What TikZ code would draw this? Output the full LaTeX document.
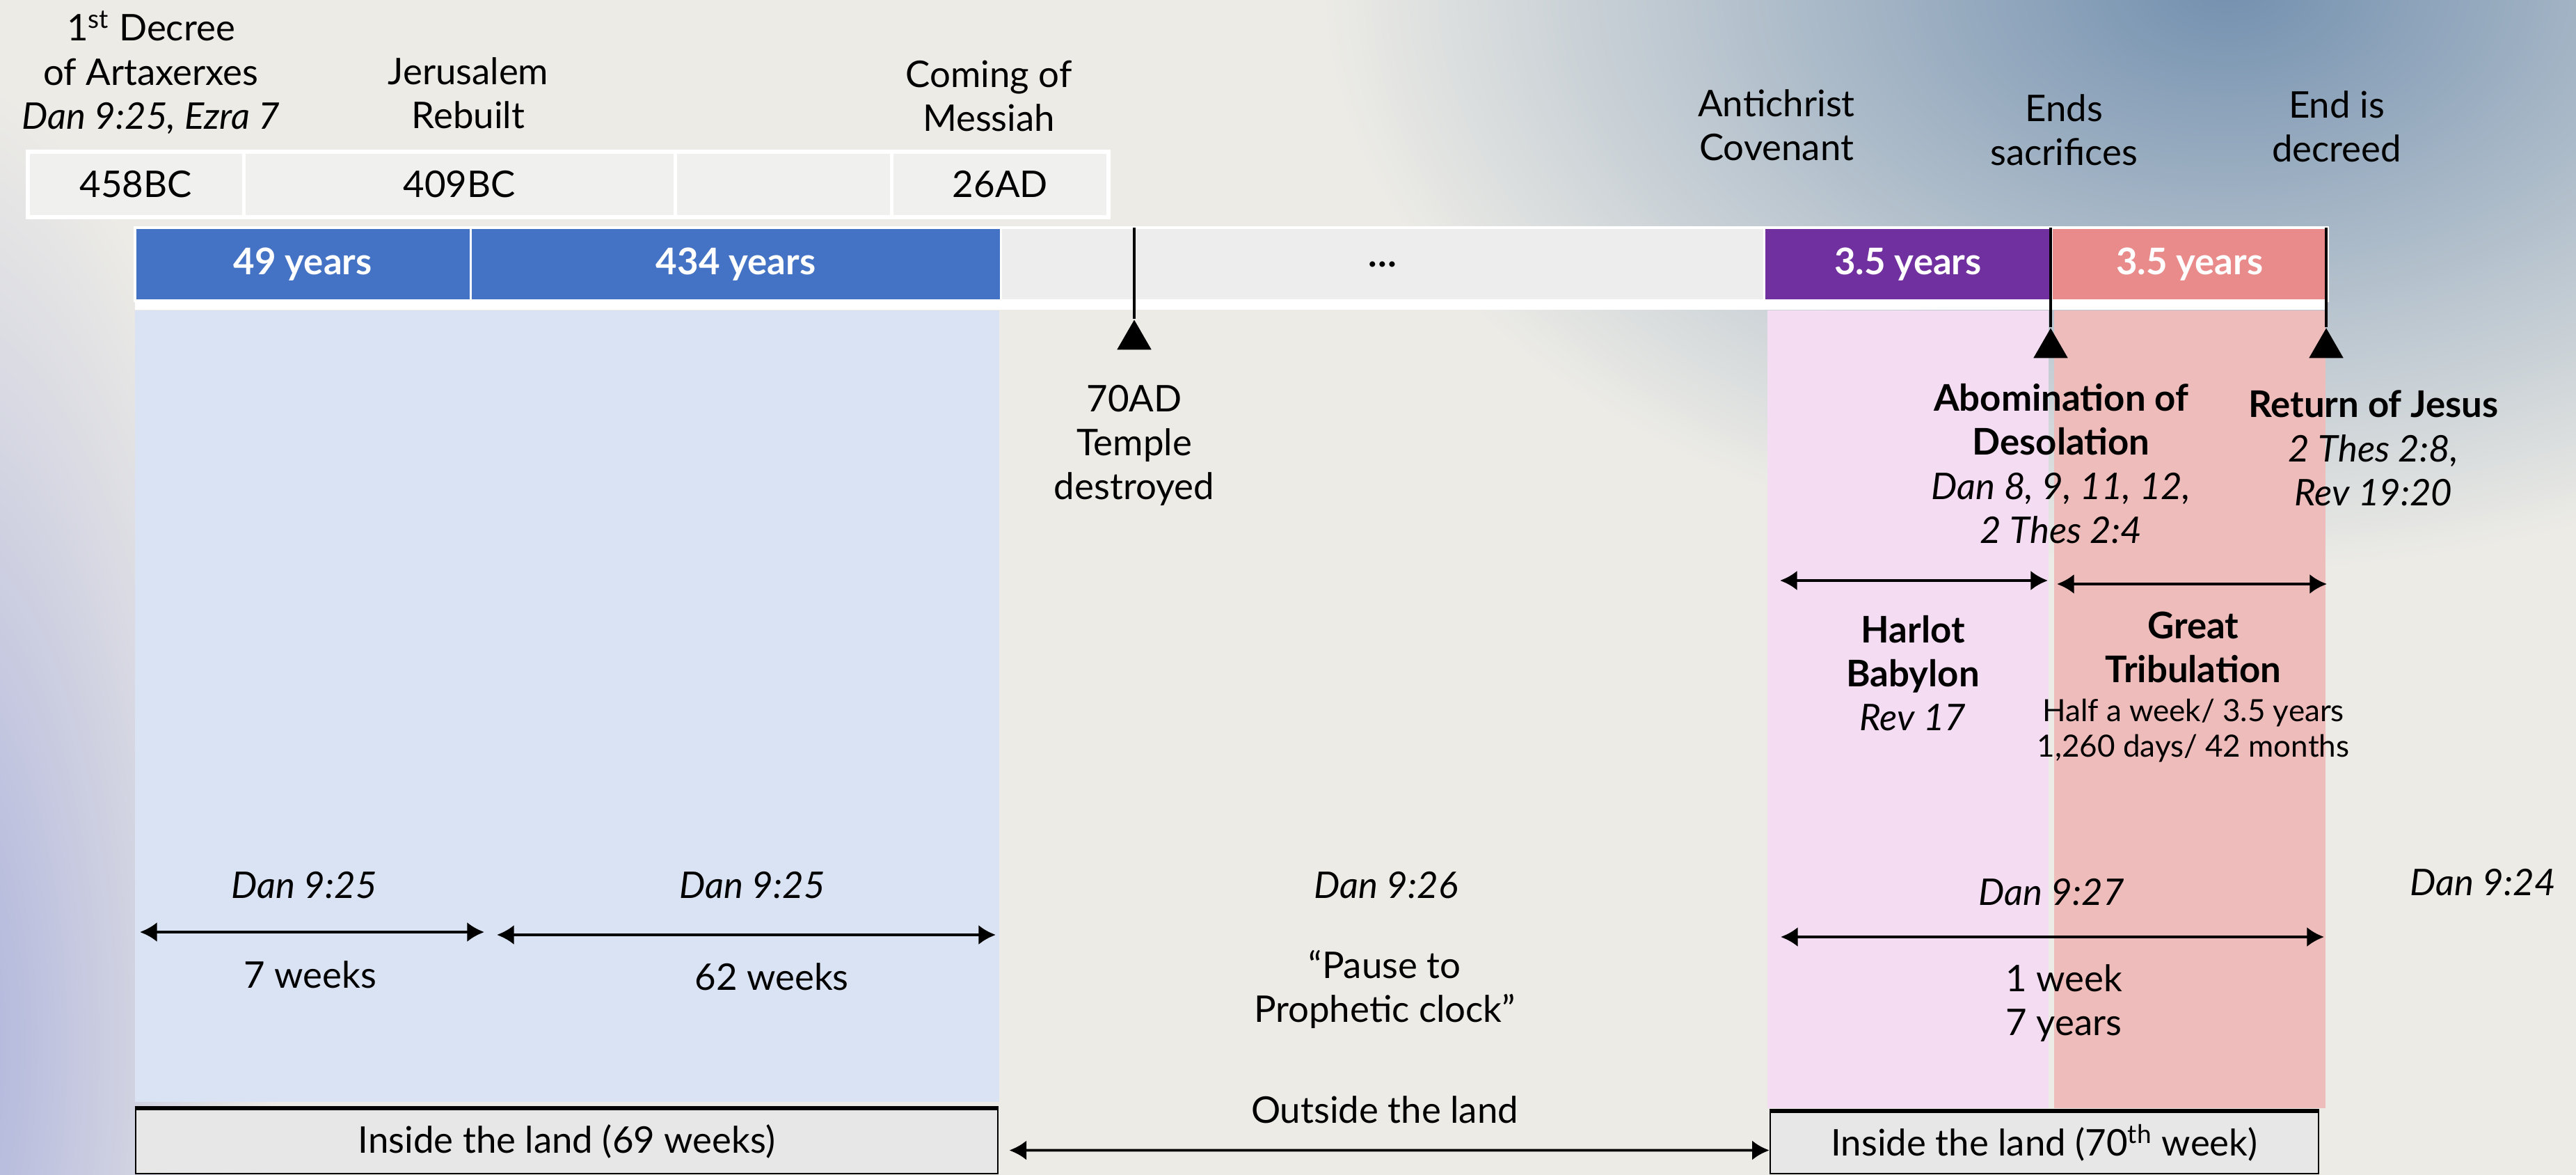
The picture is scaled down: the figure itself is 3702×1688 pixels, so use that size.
\documentclass[tikz,border=0pt]{standalone}
\usepackage{fontspec}
\setmainfont{Lato}
\usetikzlibrary{arrows.meta, positioning, shapes.geometric}

\definecolor{bgc}{HTML}{ECEBE6}
\definecolor{cloud}{HTML}{7390AF}
\definecolor{edgetint}{HTML}{A9AFDB}
\definecolor{cellgray}{HTML}{F0F0EF}
\definecolor{boxgray}{HTML}{E7E7E7}
\definecolor{barblue}{HTML}{4472C4}
\definecolor{barpurple}{HTML}{7030A0}
\definecolor{barsalmon}{HTML}{E98B8B}
\definecolor{bargray}{HTML}{EDEDED}
\definecolor{colblue}{HTML}{DAE3F3}
\definecolor{colpink}{HTML}{F4DCF3}
\definecolor{colsalmon}{HTML}{EEBCBA}

\begin{document}
\begin{tikzpicture}[
    x=0.01cm, y=-0.01cm,
    >={Latex[length=7pt, width=8pt]},
    font=\fontsize{15}{18}\selectfont,
    txt/.style = {align=center, inner sep=1pt},
    ref/.style = {txt, font=\fontsize{15}{18}\selectfont\itshape},
    head/.style = {txt, font=\fontsize{15}{18}\selectfont\bfseries},
    small/.style = {txt, font=\fontsize{12.5}{14.5}\selectfont},
    cell/.style = {draw=white, line width=1.5pt, fill=cellgray, minimum height=0.94cm, inner sep=0pt, outer sep=0pt},
    bar/.style = {draw=white, line width=1pt, minimum height=1.05cm, inner sep=0pt, outer sep=0pt, text=white, font=\fontsize{15}{18}\selectfont\bfseries},
    landbox/.style = {draw=black, line width=0.6pt, fill=boxgray, inner sep=0pt},
    span/.style = {<->, line width=1.1pt},
    pointer/.style = {regular polygon, regular polygon sides=3, fill=black, inner sep=0pt, minimum size=0.57cm},
    stem/.style = {line width=1.1pt}
]

% =========================================================
% BACKGROUND
% =========================================================
\useasboundingbox (0,0) rectangle (3702,1688);
\begin{scope}
  \clip (0,0) rectangle (3702,1688);
  \fill[bgc] (0,0) rectangle (3702,1688);
  \shade[inner color=cloud, outer color=bgc] (3200,-20) ellipse (1300 and 840);
  \shade[inner color=edgetint, outer color=bgc] (-100,1500) ellipse (500 and 1400);
\end{scope}

% shaded columns under the bar
\fill[colblue] (194,446) rectangle (1436,1583);
\fill[colpink] (2540,446) rectangle (2944,1592);
\fill[colsalmon] (2952,446) rectangle (3342,1592);

% =========================================================
% DATES AND HEADINGS
% =========================================================
\node[cell, minimum width=3.10cm, anchor=north west] (c458) at (40,218) {458BC};
\node[cell, minimum width=6.20cm, right=0pt of c458] (c409) {409BC};
\node[cell, minimum width=3.11cm, right=0pt of c409] (cblank) {};
\node[cell, minimum width=3.11cm, right=0pt of cblank] (c26) {26AD};

\node[txt] (decree) at (217,104) {1\textsuperscript{st} Decree\\of Artaxerxes\\\textit{Dan 9:25, Ezra 7}};
\node[txt] (rebuilt) at (673,134) {Jerusalem\\Rebuilt};
\node[txt] (messiah) at (1421,138) {Coming of\\Messiah};
\node[txt] (covenant) at (2553,180) {Antichrist\\Covenant};
\node[txt] (sacrifice) at (2966,187) {Ends\\sacrifices};
\node[txt] (decreed) at (3358,182) {End is\\decreed};

% =========================================================
% TIMELINE BAR
% =========================================================
\node[bar, fill=barblue, minimum width=4.82cm, anchor=north west] (b49) at (194,327) {49 years};
\node[bar, fill=barblue, minimum width=7.62cm, right=0pt of b49] (b434) {434 years};
\node[bar, fill=bargray, minimum width=10.96cm, right=0pt of b434, text=black] (bgap) {…};
\node[bar, fill=barpurple, minimum width=4.13cm, right=0pt of bgap] (bfirst) {3.5 years};
\node[bar, fill=barsalmon, minimum width=3.96cm, right=0pt of bfirst] (bsecond) {3.5 years};
\fill[white] (b49.south west) rectangle ([yshift=-0.13cm]bsecond.south east);

% =========================================================
% EVENTS
% =========================================================
\node[pointer] (p70) at (1630,488) {};
\node[pointer] (pabom) at (2947,500) {};
\node[pointer] (preturn) at (3343,500) {};
\draw[stem] (p70.corner 1) -- (p70.corner 1 |- bgap.north);
\draw[stem] (pabom.corner 1) -- (pabom.corner 1 |- bsecond.north);
\draw[stem] (preturn.corner 1) -- (preturn.corner 1 |- bsecond.north);

\node[txt] (t70) at (1630,640) {70AD\\Temple\\destroyed};
\node[txt] (tabom) at (2962,666) {\textbf{Abomination of}\\\textbf{Desolation}\\\textit{Dan 8, 9, 11, 12,}\\\textit{2 Thes 2:4}};
\node[txt] (treturn) at (3411,644) {\textbf{Return of Jesus}\\\textit{2 Thes 2:8,}\\\textit{Rev 19:20}};

% the two halves of the last week
\coordinate (hbL) at (2558,834);
\coordinate (hbR) at (2943,834);
\coordinate (gtL) at (2956,839);
\coordinate (gtR) at (3344,839);
\draw[span] (hbL) -- (hbR);
\draw[span] (gtL) -- (gtR);

\node[txt] (harlot) at (2749,967) {\textbf{Harlot}\\\textbf{Babylon}\\\textit{Rev 17}};
\node[head] (gt) at (3152,930) {Great\\Tribulation};
\node[small, below=1.5mm of gt] (gtnote) {Half a week/ 3.5 years\\1,260 days/ 42 months};

% =========================================================
% WEEKS
% =========================================================
\node[ref] (d25a) at (437,1272) {Dan 9:25};
\node[ref] (d25b) at (1081,1272) {Dan 9:25};
\node[ref] (d26) at (1992,1272) {Dan 9:26};
\node[ref] (d27) at (2948,1282) {Dan 9:27};
\node[ref] (d24) at (3568,1268) {Dan 9:24};

\coordinate (w7L) at (201,1339);
\coordinate (w7R) at (696,1339);
\coordinate (w62L) at (714,1343);
\coordinate (w62R) at (1431,1343);
\coordinate (w1L) at (2559,1346);
\coordinate (w1R) at (3340,1346);
\draw[span] (w7L) -- (w7R);
\draw[span] (w62L) -- (w62R);
\draw[span] (w1L) -- (w1R);

\node[txt] (w7) at (446,1400) {7 weeks};
\node[txt] (w62) at (1109,1403) {62 weeks};
\node[txt] (pause) at (1990,1421) {“Pause to\\Prophetic clock”};
\node[txt] (w1) at (2966,1441) {1 week\\7 years};

% =========================================================
% LAND
% =========================================================
\node[landbox, minimum width=12.39cm, minimum height=0.93cm] (in69) at (814.5,1639.5) {Inside the land (69 weeks)};
\node[landbox, minimum width=7.88cm, minimum height=0.89cm] (in70) at (2938,1641.5) {Inside the land (70\textsuperscript{th} week)};
\draw[line width=1.5pt] (in69.north west) -- (in69.north east);
\draw[line width=1.5pt] (in70.north west) -- (in70.north east);

\node[txt] (outside) at (1990,1594) {Outside the land};
\draw[span] ([xshift=0.15cm, yshift=-0.13cm]in69.east) -- ([yshift=-0.11cm]in70.west);

\end{tikzpicture}
\end{document}
